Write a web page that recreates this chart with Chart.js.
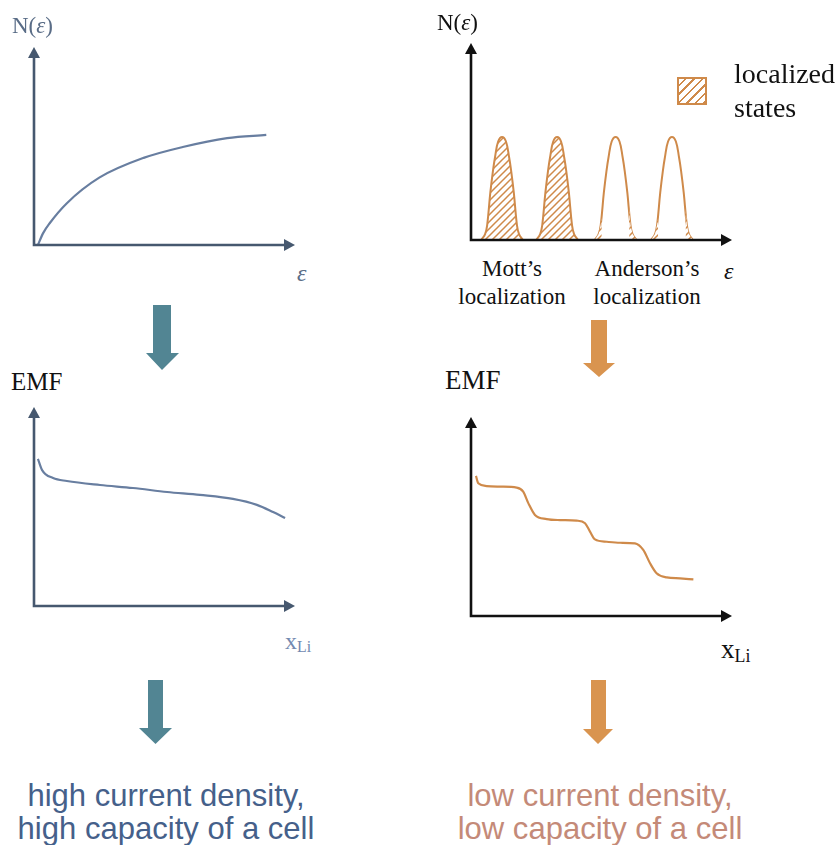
<!DOCTYPE html>
<html>
<head>
<meta charset="utf-8">
<script src="https://cdn.jsdelivr.net/npm/chart.js@4.4.1/dist/chart.umd.min.js"></script>
<style>
  html, body { margin:0; padding:0; background:#fff; }
  #stage { position:relative; width:840px; height:845px; overflow:hidden; background:#fff; }
  .box { position:absolute; }
  .lbl { position:absolute; white-space:nowrap; font-family:"Liberation Serif","DejaVu Serif",serif; line-height:1; }
  .big { position:absolute; font-family:"Liberation Sans",Arial,sans-serif; font-size:32px; line-height:33px; text-align:center; white-space:nowrap; transform:scaleX(0.97); }
  sub { font-size:0.66em; vertical-align:-0.22em; line-height:0; }
  svg.arrow { position:absolute; left:0; top:0; }
</style>
</head>
<body>
<div id="stage">
  <div class="box" style="left:24px;top:37px;width:281px;height:218px;"><canvas id="c1"></canvas></div>
  <div class="box" style="left:461px;top:33px;width:281px;height:217px;"><canvas id="c2"></canvas></div>
  <div class="box" style="left:24px;top:397px;width:281px;height:219px;"><canvas id="c3"></canvas></div>
  <div class="box" style="left:461px;top:407px;width:281px;height:219px;"><canvas id="c4"></canvas></div>

  <!-- axis labels -->
  <div class="lbl" style="left:12px;top:14px;font-size:23px;color:#5a6d87;">N(<i>ε</i>)</div>
  <div class="lbl" style="left:297px;top:261px;font-size:24px;color:#5a6d87;"><i>ε</i></div>
  <div class="lbl" style="left:437px;top:11px;font-size:23px;color:#111;">N(<i>ε</i>)</div>
  <div class="lbl" style="left:724px;top:259px;font-size:24px;color:#111;"><i>ε</i></div>

  <div class="lbl" style="left:442px;top:255px;width:140px;text-align:center;font-size:23px;line-height:28px;color:#111;">Mott’s<br>localization</div>
  <div class="lbl" style="left:577px;top:255px;width:140px;text-align:center;font-size:23px;line-height:28px;color:#111;">Anderson’s<br>localization</div>

  <div style="position:absolute;left:677px;top:77px;width:26px;height:24px;border:2px solid #cf8a4a;background:repeating-linear-gradient(-45deg,#cf8a4a 0 1.6px,#fff 1.6px 6px);"></div>
  <div class="lbl" style="left:734px;top:57px;font-size:28px;line-height:34px;color:#111;">localized<br>states</div>

  <div class="lbl" style="left:11px;top:369px;font-size:25px;color:#111;">EMF</div>
  <div class="lbl" style="left:445px;top:367px;font-size:27px;color:#111;">EMF</div>
  <div class="lbl" style="left:285px;top:629px;font-size:24px;color:#7289b0;">x<sub>Li</sub></div>
  <div class="lbl" style="left:721px;top:636px;font-size:27px;color:#111;">x<sub>Li</sub></div>

  <!-- bottom texts -->
  <div class="big" style="left:6px;top:779px;width:320px;color:#45608a;">high current density,<br>high capacity of a cell</div>
  <div class="big" style="left:440px;top:779px;width:320px;color:#c48a78;">low current density,<br>low capacity of a cell</div>

  <!-- flow arrows -->
  <svg class="arrow" width="840" height="845" viewBox="0 0 840 845">
    <polygon points="153,305 171,305 171,353 179,353 162,370 146,353 153,353" fill="#528593"/>
    <polygon points="591,320 607,320 607,363 615,363 599,377 583,363 591,363" fill="#d9944f"/>
    <polygon points="148,680 163,680 163,728 172,728 155.5,744 139,728 148,728" fill="#528593"/>
    <polygon points="591,680 606,680 606,729 613,729 598,744 583,729 591,729" fill="#d9944f"/>
  </svg>
</div>

<script>
// ---------- DATA ----------
// Top-left: density of states N(ε) (delocalized)
const dosEnergy = [1.5, 3.5, 6, 12.5, 25, 42, 57, 74, 89];
const dosValues = [0, 6, 11, 21, 34, 44, 49.5, 54, 55.6];

// Top-right: localized peaks (shared height profile)
const peakHeights = [0, 3, 7.6, 24, 35, 42, 50, 52.3, 50, 42, 35, 24, 7.6, 3, 0];
const peak1X = [3.9, 5.4, 6.2, 7.4, 8.4, 9.2, 10.4, 11.9, 13.4, 14.6, 15.4, 16.4, 17.6, 18.4, 19.9];
const peak2X = [25.0, 26.5, 27.3, 28.5, 29.5, 30.3, 31.5, 33.0, 34.5, 35.7, 36.5, 37.5, 38.7, 39.5, 41.0];
const peak3X = [47.4, 48.9, 49.7, 50.9, 51.9, 52.7, 53.9, 55.4, 56.9, 58.1, 58.9, 59.9, 61.1, 61.9, 63.4];
const peak4X = [69.0, 70.5, 71.3, 72.5, 73.5, 74.3, 75.5, 77.0, 78.5, 79.7, 80.5, 81.5, 82.7, 83.5, 85.0];
// hatched tails of the Anderson peaks
const tailLeftH  = [0, 3, 7.6, 11, 0];
const tailRightH = [0, 16, 7.6, 3, 0];
const tail3LeftX  = [47.4, 48.9, 49.7, 50.1, 50.1];
const tail3RightX = [60.6, 60.6, 61.1, 61.9, 63.4];
const tail4LeftX  = [69.0, 70.5, 71.3, 71.7, 71.7];
const tail4RightX = [82.2, 82.2, 82.7, 83.5, 85.0];

// Middle-left: EMF vs x_Li (smooth)
const emfSmoothX = [1.5, 3.1, 7.3, 12.6, 25.3, 37.9, 51, 63.6, 76.2, 85.4, 91.6, 96.2];
const emfSmoothY = [73.9, 68.3, 64.3, 62.8, 60.8, 59.3, 57.3, 55.8, 53.8, 50.8, 47.2, 44.2];

// Middle-right: EMF vs x_Li (stepped)
const emfStepX = [1.9, 2.8, 6.0, 11.1, 17.5, 20.0, 22.0, 24.5, 29.0, 34.1, 40.5, 43.7, 45.6, 47.5, 52.0, 57.1, 62.8, 66.0, 68.6, 71.1, 75.0, 80.1, 85.2];
const emfStepY = [70.4, 66.7, 65.3, 65.0, 64.5, 62.5, 56.6, 50.8, 48.7, 48.2, 47.9, 46.6, 42.4, 38.5, 37.3, 36.8, 36.5, 33.2, 26.5, 21.5, 19.4, 18.9, 18.4];

// ---------- STYLE / HELPERS ----------
const SLATE_AXIS = '#46586f';
const SLATE_LINE = '#687ea0';
const ORANGE = '#cf8a4a';

function pts(xs, ys) { return xs.map((x, i) => ({ x: x, y: ys[i] })); }

function hatch(color) {
  const s = 7;
  const c = document.createElement('canvas');
  c.width = s; c.height = s;
  const g = c.getContext('2d');
  g.fillStyle = '#ffffff'; g.fillRect(0, 0, s, s);
  g.strokeStyle = color; g.lineWidth = 1.5;
  g.beginPath();
  g.moveTo(-1, s + 1); g.lineTo(s + 1, -1);
  g.moveTo(-1, 1); g.lineTo(1, -1);
  g.moveTo(s - 1, s + 1); g.lineTo(s + 1, s - 1);
  g.stroke();
  return g.createPattern(c, 'repeat');
}

const axisArrows = {
  id: 'axisArrows',
  afterDatasetsDraw(chart, args, opts) {
    const sx = chart.scales.x, sy = chart.scales.y;
    const x0 = sx.getPixelForValue(0), x1 = sx.getPixelForValue(100);
    const y0 = sy.getPixelForValue(0), y1 = sy.getPixelForValue(100);
    const ctx = chart.ctx, L = 11, W = 6;
    ctx.save();
    ctx.strokeStyle = opts.color; ctx.fillStyle = opts.color; ctx.lineWidth = opts.width;
    ctx.lineCap = 'butt';
    ctx.beginPath();
    ctx.moveTo(x0, y0 + opts.width / 2); ctx.lineTo(x0, y1 + L - 1);
    ctx.moveTo(x0 - opts.width / 2, y0); ctx.lineTo(x1 - L + 1, y0);
    ctx.stroke();
    ctx.beginPath();
    ctx.moveTo(x0, y1); ctx.lineTo(x0 - W, y1 + L); ctx.lineTo(x0 + W, y1 + L); ctx.closePath();
    ctx.fill();
    ctx.beginPath();
    ctx.moveTo(x1, y0); ctx.lineTo(x1 - L, y0 - W); ctx.lineTo(x1 - L, y0 + W); ctx.closePath();
    ctx.fill();
    ctx.restore();
  }
};

function makeChart(id, datasets, axisColor) {
  return new Chart(document.getElementById(id), {
    type: 'line',
    data: { datasets: datasets },
    options: {
      responsive: true,
      maintainAspectRatio: false,
      animation: false,
      events: [],
      layout: { padding: 10 },
      elements: { point: { radius: 0 } },
      scales: {
        x: { type: 'linear', min: 0, max: 100, display: false },
        y: { type: 'linear', min: 0, max: 100, display: false }
      },
      plugins: {
        legend: { display: false },
        tooltip: { enabled: false },
        axisArrows: { color: axisColor, width: 2.6 }
      }
    },
    plugins: [axisArrows]
  });
}

const pat = hatch(ORANGE);

makeChart('c1', [
  { data: pts(dosEnergy, dosValues), borderColor: SLATE_LINE, borderWidth: 2.2, tension: 0.4, cubicInterpolationMode: 'monotone', fill: false }
], SLATE_AXIS);

const peakLine = (xs, filled) => ({
  data: pts(xs, peakHeights), borderColor: ORANGE, borderWidth: 2, tension: 0.4,
  fill: filled ? 'origin' : false, backgroundColor: filled ? pat : 'transparent'
});
const tail = (xs, hs) => ({
  data: pts(xs, hs), borderColor: 'transparent', borderWidth: 0, tension: 0,
  fill: 'origin', backgroundColor: pat
});
makeChart('c2', [
  tail(tail3LeftX, tailLeftH), tail(tail3RightX, tailRightH),
  tail(tail4LeftX, tailLeftH), tail(tail4RightX, tailRightH),
  peakLine(peak1X, true), peakLine(peak2X, true),
  peakLine(peak3X, false), peakLine(peak4X, false)
], '#111111');

makeChart('c3', [
  { data: pts(emfSmoothX, emfSmoothY), borderColor: SLATE_LINE, borderWidth: 2.2, tension: 0.4, cubicInterpolationMode: 'monotone', fill: false }
], SLATE_AXIS);

makeChart('c4', [
  { data: pts(emfStepX, emfStepY), borderColor: ORANGE, borderWidth: 2.2, tension: 0.4, cubicInterpolationMode: 'monotone', fill: false }
], '#111111');
</script>
</body>
</html>
